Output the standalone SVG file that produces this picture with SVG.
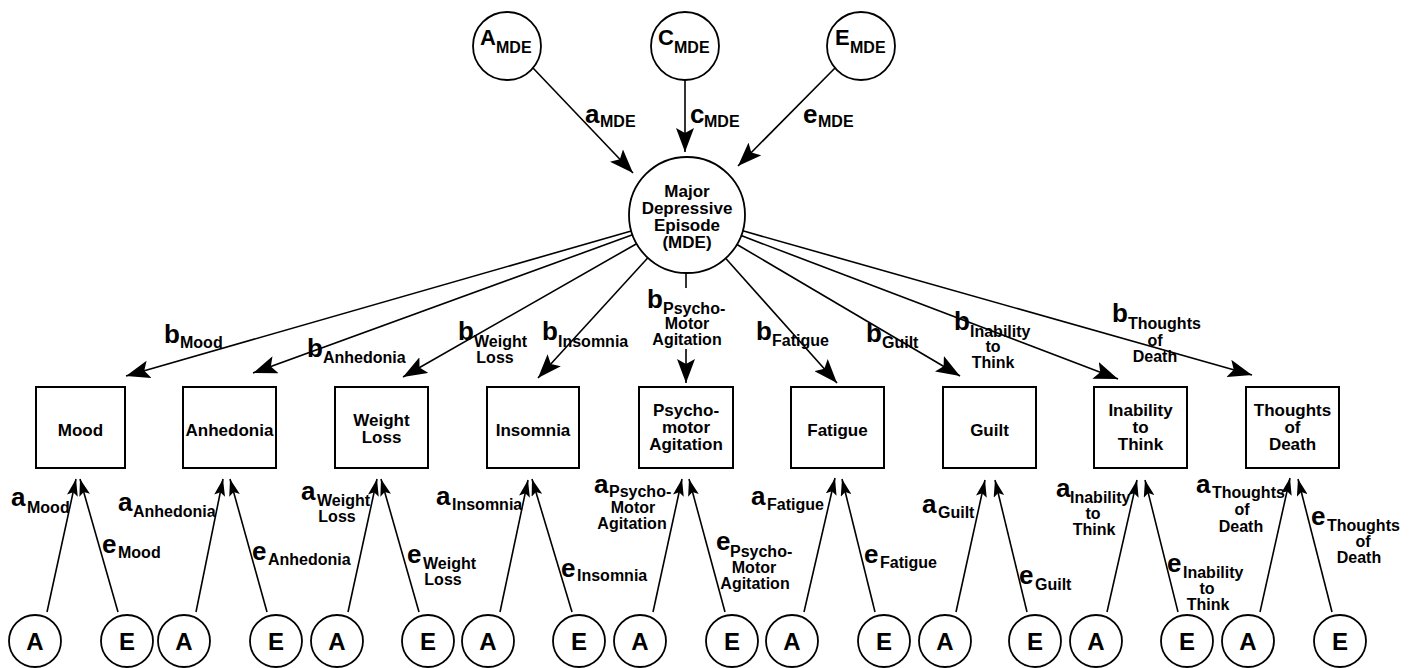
<svg xmlns="http://www.w3.org/2000/svg" width="1409" height="668" viewBox="0 0 1409 668">
<style>
.ln{fill:none;stroke:#000;stroke-width:1.6}
.bx{fill:#fff;stroke:#000;stroke-width:2}
.cr{fill:#fff;stroke:#000;stroke-width:1.8}
text{font-family:'Liberation Sans',Arial,Helvetica,sans-serif;font-weight:bold;fill:#000}
.L{font-size:26px}
.S{font-size:16px}
.N{font-size:17px;text-anchor:middle}
.C{font-size:22px}
.B{font-size:24px;text-anchor:middle}
.m{text-anchor:middle}
</style>
<defs>
<marker id="big" markerUnits="userSpaceOnUse" viewBox="0 0 24 18" markerWidth="24" markerHeight="18" refX="24" refY="9" orient="auto"><path d="M0,0 L24,9 L0,18 L5,9 Z" fill="#000"/></marker>
<marker id="sm" markerUnits="userSpaceOnUse" viewBox="0 0 17 11" markerWidth="17" markerHeight="11" refX="17" refY="5.5" orient="auto"><path d="M0,0 L17,5.5 L0,11 L3.5,5.5 Z" fill="#000"/></marker>
</defs>
<rect width="1409" height="668" fill="#fff"/>

<g id="connectors">
<path class="ln" d="M533,68 L633,173" marker-end="url(#big)"/>
<path class="ln" d="M685,80 L685,152" marker-end="url(#big)"/>
<path class="ln" d="M835,68 L738,166" marker-end="url(#big)"/>

<path class="ln" d="M631.2,231 L126,376" marker-end="url(#big)"/>
<path class="ln" d="M632.5,234.8 L253,373" marker-end="url(#big)"/>
<path class="ln" d="M636.6,243.7 L403,377" marker-end="url(#big)"/>
<path class="ln" d="M647.9,257.8 L538,378" marker-end="url(#big)"/>
<path class="ln" d="M686,273 L686,288"/>
<path class="ln" d="M686,349 L686,383" marker-end="url(#big)"/>
<path class="ln" d="M725.6,258.3 L837,383" marker-end="url(#big)"/>
<path class="ln" d="M737,244.5 L960,376" marker-end="url(#big)"/>
<path class="ln" d="M741.2,235.6 L1118,379" marker-end="url(#big)"/>
<path class="ln" d="M742.8,230.8 L1252,375" marker-end="url(#big)"/>

<path class="ln" d="M47,612 L76,479" marker-end="url(#sm)"/>
<path class="ln" d="M118,612 L80,479" marker-end="url(#sm)"/>
<path class="ln" d="M196,612 L223,479" marker-end="url(#sm)"/>
<path class="ln" d="M267,612 L230,479" marker-end="url(#sm)"/>
<path class="ln" d="M348,612 L377,479" marker-end="url(#sm)"/>
<path class="ln" d="M419,612 L381,479" marker-end="url(#sm)"/>
<path class="ln" d="M500,612 L528,480" marker-end="url(#sm)"/>
<path class="ln" d="M572,612 L532,479" marker-end="url(#sm)"/>
<path class="ln" d="M653,612 L682,479" marker-end="url(#sm)"/>
<path class="ln" d="M725,612 L689,479" marker-end="url(#sm)"/>
<path class="ln" d="M804,612 L835,478" marker-end="url(#sm)"/>
<path class="ln" d="M875,612 L842,479" marker-end="url(#sm)"/>
<path class="ln" d="M956,612 L985,480" marker-end="url(#sm)"/>
<path class="ln" d="M1027,612 L995,480" marker-end="url(#sm)"/>
<path class="ln" d="M1107,612 L1137,480" marker-end="url(#sm)"/>
<path class="ln" d="M1178,612 L1145,480" marker-end="url(#sm)"/>
<path class="ln" d="M1260,612 L1290,478" marker-end="url(#sm)"/>
<path class="ln" d="M1332,612 L1298,479" marker-end="url(#sm)"/>
</g>

<g id="connector-labels">
<text class="L" x="585" y="123">a</text><text class="S" x="600" y="127">MDE</text>
<text class="L" x="690" y="123">c</text><text class="S" x="704" y="127">MDE</text>
<text class="L" x="803" y="123">e</text><text class="S" x="818" y="127">MDE</text>

<text class="L" x="164" y="343">b</text><text class="S" x="180" y="348">Mood</text>
<text class="L" x="307" y="357">b</text><text class="S" x="323" y="363">Anhedonia</text>
<text class="L" x="458" y="340">b</text><text class="S" x="474" y="347">Weight</text><text class="S m" x="495" y="363">Loss</text>
<text class="L" x="542" y="340">b</text><text class="S" x="558" y="347">Insomnia</text>
<text class="L" x="647" y="308">b</text><text class="S" x="663" y="314">Psycho-</text><text class="S m" x="687" y="329">Motor</text><text class="S m" x="687" y="345">Agitation</text>
<text class="L" x="756" y="340">b</text><text class="S" x="772" y="346">Fatigue</text>
<text class="L" x="866" y="342">b</text><text class="S" x="882" y="348">Guilt</text>
<text class="L" x="954" y="330">b</text><text class="S" x="970" y="337">Inability</text><text class="S m" x="993" y="352">to</text><text class="S m" x="993" y="368">Think</text>
<text class="L" x="1112" y="322">b</text><text class="S" x="1128" y="329">Thoughts</text><text class="S m" x="1155" y="346">of</text><text class="S m" x="1155" y="362">Death</text>

<text class="L" x="11" y="506">a</text><text class="S" x="27" y="513">Mood</text>
<text class="L" x="102" y="553">e</text><text class="S" x="118" y="558">Mood</text>
<text class="L" x="118" y="511">a</text><text class="S" x="133" y="517">Anhedonia</text>
<text class="L" x="252" y="560">e</text><text class="S" x="268" y="565">Anhedonia</text>
<text class="L" x="301" y="500">a</text><text class="S" x="317" y="506">Weight</text><text class="S m" x="337" y="522">Loss</text>
<text class="L" x="407" y="563">e</text><text class="S" x="423" y="569">Weight</text><text class="S m" x="443" y="585">Loss</text>
<text class="L" x="436" y="505">a</text><text class="S" x="452" y="510">Insomnia</text>
<text class="L" x="561" y="577">e</text><text class="S" x="577" y="581">Insomnia</text>
<text class="L" x="594" y="493">a</text><text class="S" x="609" y="497">Psycho-</text><text class="S m" x="633" y="513">Motor</text><text class="S m" x="632" y="529">Agitation</text>
<text class="L" x="716" y="550">e</text><text class="S" x="730" y="557">Psycho-</text><text class="S m" x="754" y="573">Motor</text><text class="S m" x="755" y="589">Agitation</text>
<text class="L" x="751" y="505">a</text><text class="S" x="767" y="510">Fatigue</text>
<text class="L" x="864" y="563">e</text><text class="S" x="880" y="568">Fatigue</text>
<text class="L" x="922" y="513">a</text><text class="S" x="938" y="518">Guilt</text>
<text class="L" x="1019" y="584">e</text><text class="S" x="1035" y="590">Guilt</text>
<text class="L" x="1056" y="497">a</text><text class="S" x="1070" y="503">Inability</text><text class="S m" x="1093" y="519">to</text><text class="S m" x="1094" y="535">Think</text>
<text class="L" x="1167" y="572">e</text><text class="S" x="1183" y="578">Inability</text><text class="S m" x="1207" y="594">to</text><text class="S m" x="1208" y="610">Think</text>
<text class="L" x="1196" y="493">a</text><text class="S" x="1212" y="498">Thoughts</text><text class="S m" x="1242" y="515">of</text><text class="S m" x="1241" y="532">Death</text>
<text class="L" x="1311" y="525">e</text><text class="S" x="1327" y="531">Thoughts</text><text class="S m" x="1363" y="547">of</text><text class="S m" x="1359" y="563">Death</text>
</g>

<g id="A_MDE"><circle class="cr" cx="507" cy="46" r="34"/><text class="C" x="480" y="45">A</text><text class="S" x="496" y="53">MDE</text></g>
<g id="C_MDE"><circle class="cr" cx="685" cy="46" r="34"/><text class="C" x="658" y="45">C</text><text class="S" x="674" y="53">MDE</text></g>
<g id="E_MDE"><circle class="cr" cx="861" cy="46" r="34"/><text class="C" x="835" y="45">E</text><text class="S" x="850" y="53">MDE</text></g>

<g id="MDE"><circle class="cr" cx="687" cy="215" r="58"/>
<text class="N" x="687" y="197">Major</text><text class="N" x="687" y="214">Depressive</text><text class="N" x="687" y="231">Episode</text><text class="N" x="687" y="248">(MDE)</text></g>

<g id="Mood"><rect class="bx" x="36" y="387" width="89" height="81"/><text class="N" x="80.5" y="436">Mood</text></g>
<g id="Anhedonia"><rect class="bx" x="183" y="387" width="93" height="81"/><text class="N" x="229.5" y="436">Anhedonia</text></g>
<g id="WeightLoss"><rect class="bx" x="335" y="387" width="93" height="81"/><text class="N" x="381.5" y="426">Weight</text><text class="N" x="381.5" y="443">Loss</text></g>
<g id="Insomnia"><rect class="bx" x="487" y="387" width="92" height="81"/><text class="N" x="533" y="436">Insomnia</text></g>
<g id="Psychomotor"><rect class="bx" x="639" y="387" width="94" height="81"/><text class="N" x="686" y="416">Psycho-</text><text class="N" x="686" y="433">motor</text><text class="N" x="686" y="450">Agitation</text></g>
<g id="Fatigue"><rect class="bx" x="791" y="387" width="93" height="81"/><text class="N" x="837.5" y="436">Fatigue</text></g>
<g id="Guilt"><rect class="bx" x="943" y="387" width="93" height="81"/><text class="N" x="989.5" y="436">Guilt</text></g>
<g id="Inability"><rect class="bx" x="1094" y="387" width="93" height="81"/><text class="N" x="1140.5" y="416">Inability</text><text class="N" x="1140.5" y="433">to</text><text class="N" x="1140.5" y="450">Think</text></g>
<g id="Thoughts"><rect class="bx" x="1246" y="387" width="93" height="81"/><text class="N" x="1292.5" y="416">Thoughts</text><text class="N" x="1292.5" y="433">of</text><text class="N" x="1292.5" y="450">Death</text></g>

<g id="A1"><circle class="cr" cx="35" cy="641" r="26"/><text class="B" x="35" y="650">A</text></g>
<g id="E1"><circle class="cr" cx="127" cy="641" r="26"/><text class="B" x="127" y="650">E</text></g>
<g id="A2"><circle class="cr" cx="184" cy="641" r="26"/><text class="B" x="184" y="650">A</text></g>
<g id="E2"><circle class="cr" cx="276" cy="641" r="26"/><text class="B" x="276" y="650">E</text></g>
<g id="A3"><circle class="cr" cx="337" cy="641" r="26"/><text class="B" x="337" y="650">A</text></g>
<g id="E3"><circle class="cr" cx="428" cy="641" r="26"/><text class="B" x="428" y="650">E</text></g>
<g id="A4"><circle class="cr" cx="488" cy="641" r="26"/><text class="B" x="488" y="650">A</text></g>
<g id="E4"><circle class="cr" cx="579" cy="641" r="26"/><text class="B" x="579" y="650">E</text></g>
<g id="A5"><circle class="cr" cx="640" cy="641" r="26"/><text class="B" x="640" y="650">A</text></g>
<g id="E5"><circle class="cr" cx="732" cy="641" r="26"/><text class="B" x="732" y="650">E</text></g>
<g id="A6"><circle class="cr" cx="792" cy="641" r="26"/><text class="B" x="792" y="650">A</text></g>
<g id="E6"><circle class="cr" cx="884" cy="641" r="26"/><text class="B" x="884" y="650">E</text></g>
<g id="A7"><circle class="cr" cx="945" cy="641" r="26"/><text class="B" x="945" y="650">A</text></g>
<g id="E7"><circle class="cr" cx="1035" cy="641" r="26"/><text class="B" x="1035" y="650">E</text></g>
<g id="A8"><circle class="cr" cx="1096" cy="641" r="26"/><text class="B" x="1096" y="650">A</text></g>
<g id="E8"><circle class="cr" cx="1187" cy="641" r="26"/><text class="B" x="1187" y="650">E</text></g>
<g id="A9"><circle class="cr" cx="1248" cy="641" r="26"/><text class="B" x="1248" y="650">A</text></g>
<g id="E9"><circle class="cr" cx="1340" cy="641" r="26"/><text class="B" x="1340" y="650">E</text></g>
</svg>
